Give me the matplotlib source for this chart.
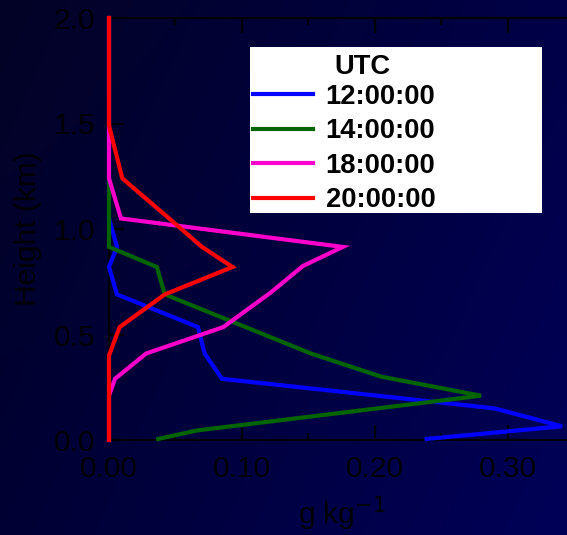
import numpy as np
import matplotlib
matplotlib.use("Agg")
import matplotlib.pyplot as plt
from matplotlib.patches import Rectangle

# mixing ratio profiles (g/kg) against height (km)
h_12 = [0.005, 0.065, 0.15, 0.29, 0.41, 0.535, 0.69, 0.82, 0.915, 1.05, 2.0]
q_12 = [0.239, 0.341, 0.290, 0.085, 0.072, 0.067, 0.006, 0.000, 0.006, 0.000, 0.000]

h_14 = [0.005, 0.045, 0.21, 0.30, 0.41, 0.69, 0.82, 0.915, 1.24, 2.0]
q_14 = [0.037, 0.066, 0.280, 0.205, 0.152, 0.042, 0.036, 0.000, 0.000, 0.000]

h_18 = [0.0, 0.21, 0.29, 0.41, 0.535, 0.70, 0.825, 0.915, 1.05, 1.24, 2.0]
q_18 = [0.0, 0.0, 0.0045, 0.028, 0.086, 0.122, 0.146, 0.176, 0.009, 0.0, 0.0]

h_20 = [0.0, 0.40, 0.535, 0.69, 0.82, 0.915, 1.057, 1.24, 1.49, 2.0]
q_20 = [0.0, 0.0, 0.008, 0.042, 0.093, 0.070, 0.044, 0.010, 0.0, 0.0]

labels = ["12:00:00", "14:00:00", "18:00:00", "20:00:00"]
colors = ["#0000ff", "#006400", "#ff00cc", "#ff0000"]

x_ticks = [0.0, 0.10, 0.20, 0.30]
x_ticklabels = ["0.00", "0.10", "0.20", "0.30"]
y_ticks = [0.0, 0.5, 1.0, 1.5, 2.0]
y_ticklabels = ["0.0", "0.5", "1.0", "1.5", "2.0"]

plt.rcParams['font.family'] = ['Liberation Sans', 'DejaVu Sans']

W, H = 567, 535
fig = plt.figure(figsize=(W / 100, H / 100), dpi=100)

# dark navy gradient behind everything
bg = fig.add_axes([0, 0, 1, 1], zorder=-10)
xx, yy = np.meshgrid(np.linspace(0, 1, 200), np.linspace(0, 1, 200))
c00 = np.array([3, 3, 38]) / 255.0    # top left
c10 = np.array([0, 0, 72]) / 255.0    # top right
c01 = np.array([0, 0, 52]) / 255.0    # bottom left
c11 = np.array([0, 0, 88]) / 255.0    # bottom right
img = (c00 * ((1 - xx) * (1 - yy))[..., None] + c10 * (xx * (1 - yy))[..., None]
       + c01 * ((1 - xx) * yy)[..., None] + c11 * (xx * yy)[..., None])
bg.imshow(img, aspect='auto', extent=[0, 1, 0, 1])
bg.axis('off')

ax = fig.add_axes([109 / W, 1 - 440 / H, 465 / W, 422 / H])
ax.set_facecolor('none')

for q, h, lab, c in zip([q_12, q_14, q_18, q_20], [h_12, h_14, h_18, h_20], labels, colors):
    ax.plot(q, h, color=c, lw=3, label=lab, solid_joinstyle='miter',
            clip_on=False, zorder=3)

ax.set_xlim(0, 0.35)
ax.set_ylim(0, 2.0)
ax.set_xticks(x_ticks)
ax.set_xticklabels(x_ticklabels)
ax.set_xticks([0.05, 0.15, 0.25], minor=True)
ax.set_yticks(y_ticks)
ax.set_yticklabels(y_ticklabels)

for s in ax.spines.values():
    s.set_color('black')
    s.set_linewidth(1.6)

ax.tick_params(axis='both', which='both', direction='in', colors='black',
               labelsize=21.5, width=1.6, top=True, right=False)
ax.tick_params(axis='both', which='major', length=11)
ax.tick_params(axis='both', which='minor', length=5)
ax.tick_params(axis='x', pad=11)
ax.tick_params(axis='y', pad=10)

ax.set_ylabel("Height (km)", fontsize=21.5, color='black', labelpad=8)
ax.set_xlabel(r"g kg$^{-1}$", fontsize=21.5, color='black', labelpad=8)

# legend on a white box
ax.add_patch(Rectangle(((250 - 109) / 465, (440 - 213) / 422), 292 / 465, 166 / 422,
                       transform=ax.transAxes, facecolor='white', edgecolor='none',
                       zorder=5, clip_on=False))
ax.text((362 - 109) / 465, (440 - 67) / 422, "UTC", transform=ax.transAxes,
        ha='center', va='center', fontsize=19.7, fontweight='bold', color='black',
        zorder=7)
leg = ax.legend(loc='upper left', bbox_to_anchor=((253 - 109) / 465, (440 - 84) / 422),
                frameon=False, borderpad=0, borderaxespad=0,
                handlelength=2.2, handletextpad=0.45, labelspacing=0.31,
                prop={'weight': 'bold', 'size': 19.7})
leg.set_zorder(6)
for line in leg.get_lines():
    line.set_linewidth(3)

fig.savefig("out.png", dpi=100)
